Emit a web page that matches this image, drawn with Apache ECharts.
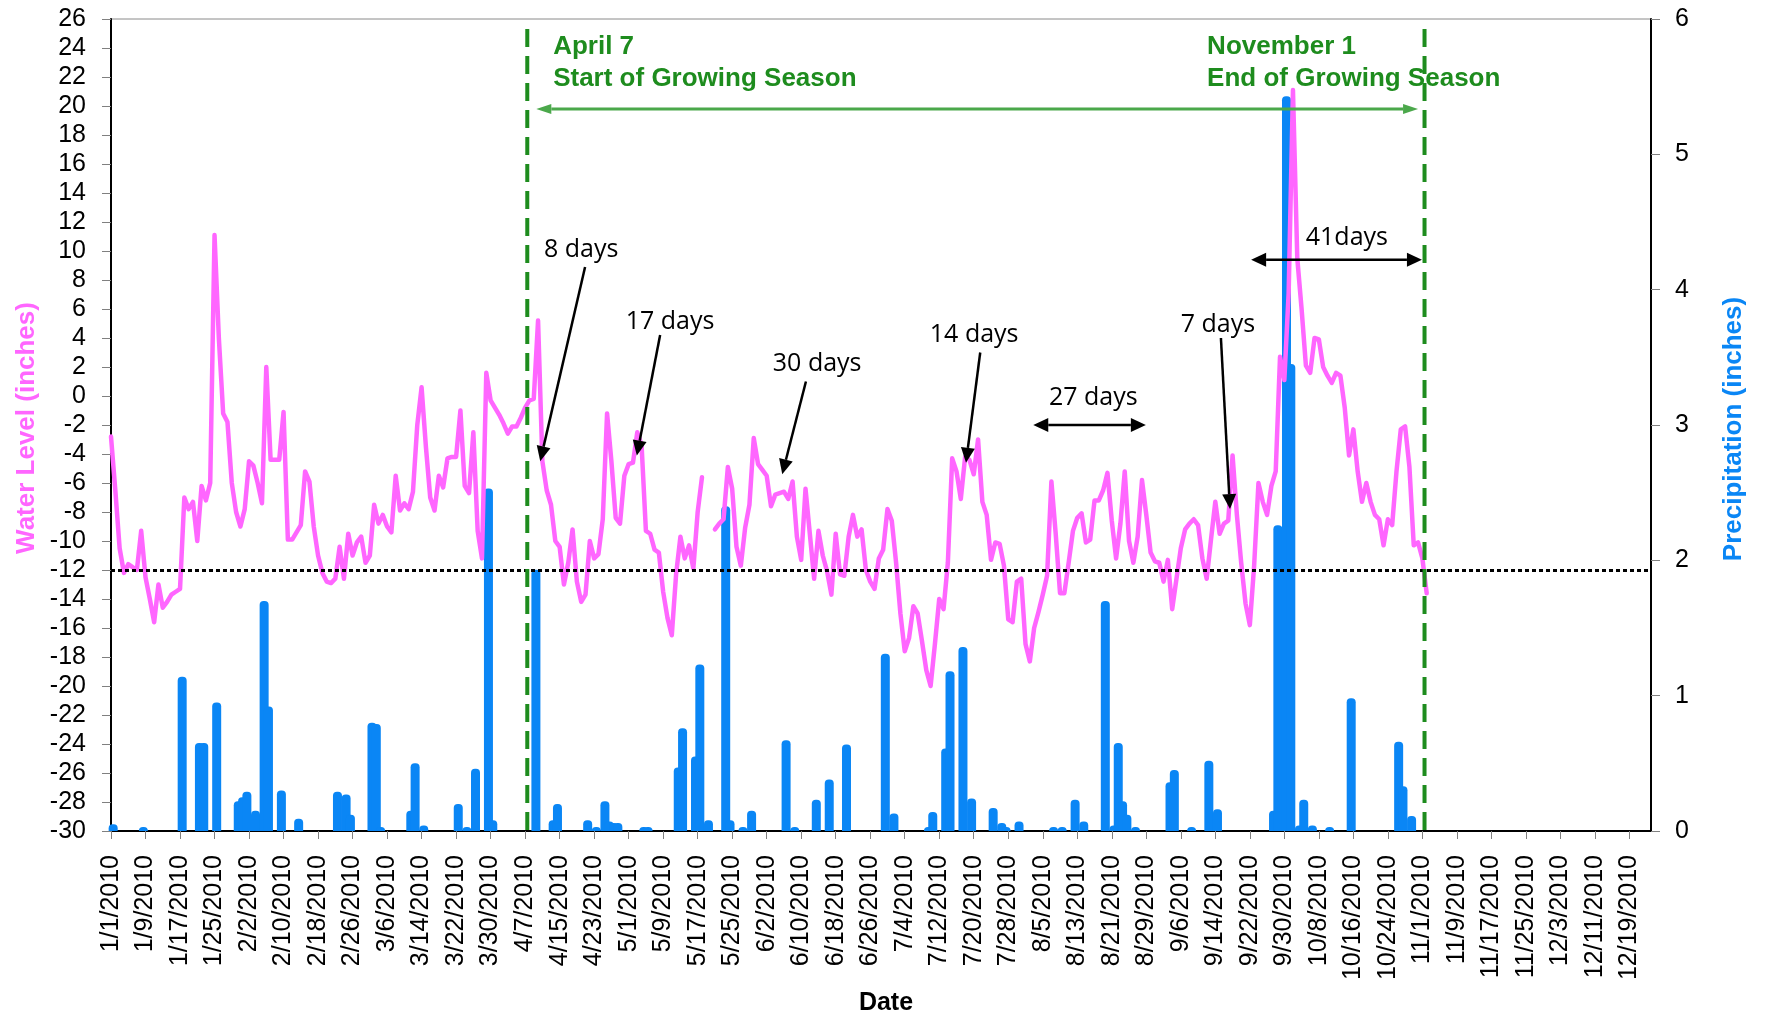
<!DOCTYPE html>
<html><head><meta charset="utf-8">
<script src="https://cdn.jsdelivr.net/npm/echarts@6.0.0/dist/echarts.min.js"></script>
<style>html,body{margin:0;padding:0;background:#fff}#c{width:1765px;height:1018px}</style>
</head><body><div id="c"></div><script>
// Daily water level (inches), starting 1/1/2010 (index = day of year - 1); null = missing
const waterLevel = [
-2.8,-6.5,-10.5,-12.2,-11.6,-11.8,-12,-9.3,-12.5,-14,
-15.6,-13,-14.6,-14.2,-13.7,-13.5,-13.3,-7,-7.8,-7.3,
-10,-6.2,-7.2,-6,11.1,4,-1.2,-1.8,-6,-8,
-9,-7.8,-4.5,-4.8,-6,-7.4,2,-4.4,-4.4,-4.4,
-1.1,-9.9,-9.9,-9.4,-8.9,-5.2,-5.9,-9,-11,-12.2,
-12.8,-12.9,-12.6,-10.4,-12.6,-9.5,-11,-10.1,-9.7,-11.5,
-11,-7.5,-8.8,-8.2,-9,-9.4,-5.5,-7.9,-7.4,-7.8,
-6.6,-2,0.6,-3.5,-7,-7.9,-5.5,-6.3,-4.3,-4.2,
-4.2,-1,-6.2,-6.7,-2.5,-9.3,-11.2,1.6,-0.3,-0.8,
-1.3,-1.9,-2.6,-2.1,-2.1,-1.5,-0.8,-0.3,-0.2,5.2,
-4.5,-6.5,-7.5,-10,-10.4,-13,-11.5,-9.2,-12.8,-14.2,
-13.7,-10,-11.2,-10.9,-8.5,-1.2,-4.5,-8.4,-8.8,-5.5,
-4.7,-4.6,-2.5,-3.4,-9.3,-9.5,-10.6,-10.8,-13.5,-15.3,
-16.5,-12.3,-9.7,-11.2,-10.3,-11.9,-8,-5.6,null,null,
-9.2,-8.8,-8.5,-4.9,-6.4,-10.4,-11.7,-9.1,-7.5,-2.9,
-4.7,-5.1,-5.5,-7.6,-6.8,-6.7,-6.6,-7.1,-5.9,-9.7,
-11.3,-6.4,-9.5,-12.6,-9.3,-11,-12.1,-13.7,-9.5,-12.3,
-12.4,-9.7,-8.2,-9.7,-9.2,-12,-12.8,-13.3,-11.2,-10.6,
-7.8,-8.6,-11.5,-15,-17.6,-16.7,-14.5,-15,-16.9,-18.9,
-20,-17.1,-14,-14.7,-11.5,-4.3,-5.2,-7.1,-4.2,-4.4,
-5.4,-3,-7.3,-8.2,-11.3,-10.1,-10.2,-11.7,-15.4,-15.6,
-12.8,-12.6,-17.1,-18.3,-16,-14.9,-13.7,-12.4,-5.9,-9.5,
-13.6,-13.6,-11.5,-9.3,-8.4,-8.1,-10.1,-9.9,-7.2,-7.2,
-6.5,-5.3,-8.6,-11.2,-8.8,-5.2,-10,-11.5,-9.7,-5.8,
-8.2,-10.8,-11.4,-11.5,-12.8,-11.3,-14.7,-12.6,-10.5,-9.2,
-8.8,-8.5,-8.9,-11.2,-12.6,-9.9,-7.3,-9.5,-8.8,-8.6,
-4.1,-8.2,-11.5,-14.3,-15.8,-11.7,-6,-7.3,-8.2,-6.2,
-5.2,2.7,1.1,7.1,21.1,9.5,6,2.1,1.6,4,
3.9,2,1.4,0.9,1.6,1.4,-0.8,-4.1,-2.3,-5.2,
-7.3,-6,-7.3,-8.2,-8.5,-10.3,-8.5,-8.9,-5.2,-2.3,
-2.1,-4.9,-10.3,-10.1,-11.2,-13.6
];
// Daily precipitation (inches): day index (0 = 1/1/2010) and value
const precipDays = [0,7,16,20,21,24,29,30,31,33,35,36,39,43,52,54,55,60,61,62,69,70,72,80,82,84,87,88,98,102,103,110,112,114,115,116,117,123,124,131,132,135,136,138,142,143,146,148,156,158,163,166,170,179,181,189,190,193,194,197,199,204,206,207,210,218,220,223,225,230,232,233,234,235,237,245,246,250,254,256,269,270,272,273,275,276,278,282,287,298,299,301];
const precipValues = [0.05,0.03,1.14,0.65,0.65,0.95,0.22,0.25,0.29,0.15,1.70,0.92,0.30,0.09,0.29,0.27,0.12,0.80,0.79,0.03,0.15,0.50,0.04,0.20,0.03,0.46,2.53,0.08,1.93,0.08,0.20,0.08,0.03,0.22,0.07,0.06,0.06,0.03,0.03,0.47,0.76,0.55,1.23,0.08,2.40,0.08,0.03,0.15,0.67,0.03,0.23,0.38,0.64,1.31,0.13,0.03,0.14,0.61,1.18,1.36,0.24,0.17,0.06,0.03,0.07,0.03,0.03,0.23,0.07,1.70,0.04,0.65,0.22,0.12,0.03,0.36,0.45,0.03,0.52,0.16,0.15,2.26,5.43,3.45,0.04,0.23,0.04,0.03,0.98,0.66,0.33,0.11];
const xTickLabels = ['1/1/2010','1/9/2010','1/17/2010','1/25/2010','2/2/2010','2/10/2010','2/18/2010','2/26/2010','3/6/2010','3/14/2010','3/22/2010','3/30/2010','4/7/2010','4/15/2010','4/23/2010','5/1/2010','5/9/2010','5/17/2010','5/25/2010','6/2/2010','6/10/2010','6/18/2010','6/26/2010','7/4/2010','7/12/2010','7/20/2010','7/28/2010','8/5/2010','8/13/2010','8/21/2010','8/29/2010','9/6/2010','9/14/2010','9/22/2010','9/30/2010','10/8/2010','10/16/2010','10/24/2010','11/1/2010','11/9/2010','11/17/2010','11/25/2010','12/3/2010','12/11/2010','12/19/2010'];
const seasonDays = [96, 304];
const seasonTexts = [['April 7','Start of Growing Season'],['November 1','End of Growing Season']];
const thresholdLevel = -12;
const intervalTexts = ['8 days','17 days','30 days','14 days','27 days','7 days','41days'];

const chart = echarts.init(document.getElementById('c'), null, {renderer:'canvas'});
const FONT = '"Liberation Sans", Arial, Helvetica, sans-serif';
const GREEN = '#1E8C1E';
const option = {
  animation:false,
  backgroundColor:'#fff',
  grid:{left:111,right:114,top:19,bottom:187,show:true,borderColor:'#8a8a8a',borderWidth:1},
  xAxis:{type:'value',min:0,max:357,interval:8,
    axisLine:{onZero:false,lineStyle:{color:'#000',width:2}},
    axisTick:{length:8,lineStyle:{color:'#808080',width:1}},
    splitLine:{show:false},
    axisLabel:{rotate:90,margin:24,fontSize:25,color:'#000',fontFamily:FONT,showMaxLabel:false,
      formatter:v=> (v%8===0 && xTickLabels[v/8]) ? xTickLabels[v/8] : ''}},
  yAxis:[
    {type:'value',min:-30,max:26,interval:2,
      axisLine:{show:true,onZero:false,lineStyle:{color:'#000',width:2}},
      axisTick:{show:true,length:9,lineStyle:{color:'#808080'}},
      splitLine:{show:false},
      axisLabel:{margin:25,fontSize:25,color:'#000',fontFamily:FONT}},
    {type:'value',min:0,max:6,interval:1,position:'right',
      axisLine:{show:true,onZero:false,lineStyle:{color:'#000',width:2}},
      axisTick:{show:true,length:9,lineStyle:{color:'#808080'}},
      splitLine:{show:false},
      axisLabel:{margin:24,fontSize:25,color:'#000',fontFamily:FONT}}
  ],
  series:[
    {type:'bar',name:'Precipitation',yAxisIndex:1,barWidth:9,clip:true,
      itemStyle:{color:'#0A86F5',borderRadius:[4,4,0,0]},
      data:precipDays.map((d,i)=>[d+0.5,precipValues[i]]),z:2},
    {type:'line',name:'Water Level',yAxisIndex:0,showSymbol:false,connectNulls:false,
      lineStyle:{color:'#FF66FF',width:4.5,join:'round',cap:'round'},itemStyle:{color:'#FF66FF'},
      data:waterLevel.map((v,i)=>[i,v]),z:3,
      markLine:{silent:true,symbol:['none','none'],label:{show:false},
        lineStyle:{color:'#000',type:[4,3],width:3},
        data:[{yAxis:thresholdLevel}],z:5}}
  ]
};
chart.setOption(option);

function px(day, lvl){ return chart.convertToPixel({xAxisIndex:0,yAxisIndex:0},[day,lvl]); }
function arrow(p1,p2,color,w,head,hw,dbl){
  const dx=p2[0]-p1[0], dy=p2[1]-p1[1], L=Math.hypot(dx,dy), ux=dx/L, uy=dy/L, nx=-uy, ny=ux;
  const b2=[p2[0]-ux*head,p2[1]-uy*head];
  const b1= dbl ? [p1[0]+ux*head,p1[1]+uy*head] : p1;
  const els=[{type:'line',shape:{x1:b1[0],y1:b1[1],x2:b2[0],y2:b2[1]},style:{stroke:color,lineWidth:w},z:100},
    {type:'polygon',shape:{points:[p2,[b2[0]+nx*hw/2,b2[1]+ny*hw/2],[b2[0]-nx*hw/2,b2[1]-ny*hw/2]]},style:{fill:color},z:100}];
  if(dbl) els.push({type:'polygon',shape:{points:[p1,[b1[0]+nx*hw/2,b1[1]+ny*hw/2],[b1[0]-nx*hw/2,b1[1]-ny*hw/2]]},style:{fill:color},z:100});
  return els;
}
function txt(x,y,s,font,fill,align,rot){
  return {type:'text',x:x,y:y,rotation:rot||0,z:101,
    style:{text:s,font:font,fill:fill,align:align||'center',verticalAlign:'middle',textAlign:align||'center',textVerticalAlign:'middle'}};
}
const g=[];
const topY=px(0,26)[1], botY=px(0,-30)[1];
seasonDays.forEach(d=>{
  const x=px(d+0.5,0)[0];
  g.push({type:'line',shape:{x1:x,y1:topY+10,x2:x,y2:botY},style:{stroke:GREEN,lineWidth:4,lineDash:[18,9]},z:99});
});
const ANN_BOLD='bold 26px '+FONT;
const s1=px(102.5,24.1), s1b=px(102.5,21.9);
g.push(txt(s1[0],s1[1],seasonTexts[0][0],ANN_BOLD,GREEN,'left'));
g.push(txt(s1b[0],s1b[1],seasonTexts[0][1],ANN_BOLD,GREEN,'left'));
const s2=px(254.1,24.1), s2b=px(254.1,21.9);
g.push(txt(s2[0],s2[1],seasonTexts[1][0],ANN_BOLD,GREEN,'left'));
g.push(txt(s2b[0],s2b[1],seasonTexts[1][1],ANN_BOLD,GREEN,'left'));
arrow(px(98.6,19.8),px(303,19.8),'#4BA84B',3,15,10,true).forEach(e=>g.push(e));
const AF='25px "Open Sans", "Noto Sans", sans-serif';
const ann=[
  {t:[109,10.1], a:[[109.9,8.9],[99.5,-4.5]]},
  {t:[129.6,5.1], a:[[127.3,4.2],[121.9,-4.1]]},
  {t:[163.7,2.2], a:[[161.1,1.0],[155.6,-5.4]]},
  {t:[200.1,4.2], a:[[201.5,3.0],[198.2,-4.6]]},
  {t:[227.7,-0.1], a:[[213.8,-2.0],[239.9,-2.0]], d:true},
  {t:[256.6,4.9], a:[[257.3,4.0],[259.4,-7.8]]},
  {t:[286.5,10.9], a:[[264.3,9.4],[303.9,9.4]], d:true}
];
ann.forEach((o,i)=>{
  const tp=px(o.t[0],o.t[1]);
  g.push(txt(tp[0],tp[1],intervalTexts[i],AF,'#000','center'));
  arrow(px(o.a[0][0],o.a[0][1]),px(o.a[1][0],o.a[1][1]),'#000',2.5,15,14,!!o.d).forEach(e=>g.push(e));
});
g.push(txt(27,428,'Water Level (inches)','bold 26px '+FONT,'#FF66FF','center',Math.PI/2));
g.push(txt(1734,429,'Precipitation (inches)','bold 26px '+FONT,'#0A86F5','center',Math.PI/2));
g.push(txt(886,1003,'Date','bold 25px '+FONT,'#000','center'));
chart.setOption({graphic:{elements:g}});
</script></body></html>
